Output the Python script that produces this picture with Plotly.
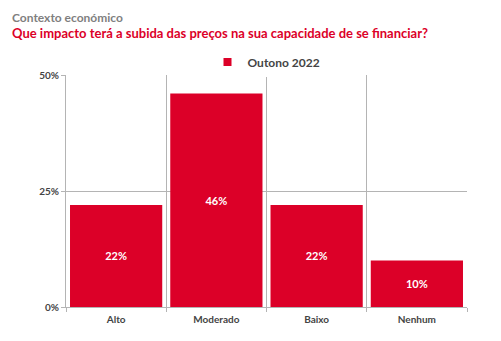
import plotly.graph_objects as go

categories = ["Alto", "Moderado", "Baixo", "Nenhum"]
values = [22, 46, 22, 10]
series_name = "Outono 2022"
y_ticks = [0, 25, 50]
y_tick_labels = ["0%", "25%", "50%"]

RED = "#dc0028"
GRID = "#b4b4b4"
FONT = "Lato, 'Open Sans', sans-serif"

fig = go.Figure()
fig.add_trace(go.Bar(
    x=categories,
    y=values,
    name=series_name,
    showlegend=False,
    marker=dict(color=RED, line=dict(width=0)),
    text=[f"<b>{v}%</b>" for v in values],
    textposition="inside",
    insidetextanchor="middle",
    textangle=0,
    textfont=dict(color="white", size=11, family=FONT),
))
# legend entry with a small square swatch
fig.add_trace(go.Scatter(
    x=[None], y=[None], mode="markers", name=f"<b>{series_name}</b>",
    marker=dict(symbol="square", size=8, color=RED),
    showlegend=True,
))

fig.update_layout(
    width=501, height=341,
    margin=dict(l=66, r=34, t=75, b=34),
    paper_bgcolor="white", plot_bgcolor="white",
    bargap=0.08,
    showlegend=True,
    legend=dict(
        orientation="h", x=0.5, xanchor="center", y=1 + (75 - 62) / 232, yanchor="middle",
        font=dict(family=FONT, size=12, color="#444"),
        itemwidth=30,
    ),
    font=dict(family=FONT),
)
fig.add_annotation(text="<b>Contexto económico</b>", xref="paper", yref="paper",
                   x=-56 / 401, y=1 + (75 - 17) / 232, xanchor="left", yanchor="middle",
                   showarrow=False, font=dict(family=FONT, size=12, color="#7f7f7f"))
fig.add_annotation(text="<b>Que impacto terá a subida das preços na sua capacidade de se financiar?</b>",
                   xref="paper", yref="paper",
                   x=-56 / 401, y=1 + (75 - 33) / 232, xanchor="left", yanchor="middle",
                   showarrow=False, font=dict(family=FONT, size=13, color=RED))

fig.update_xaxes(
    type="category",
    tickson="boundaries",
    tickvals=categories, ticktext=[f"<b>{c}</b>" for c in categories],
    showgrid=True, gridcolor=GRID, gridwidth=1,
    ticks="outside", ticklen=4, tickcolor=GRID,
    showline=True, linecolor=GRID, linewidth=1,
    tickfont=dict(family=FONT, size=10, color="#444"),
    ticklabelstandoff=3,
)
fig.update_yaxes(
    range=[0, 50],
    tickvals=y_ticks, ticktext=[f"<b>{t}</b>" for t in y_tick_labels],
    showgrid=True, gridcolor=GRID, gridwidth=1,
    ticks="outside", ticklen=4, tickcolor=GRID,
    showline=True, linecolor=GRID, linewidth=1,
    tickfont=dict(family=FONT, size=10, color="#444"),
    zeroline=False,
)

fig.write_html("out.html")
